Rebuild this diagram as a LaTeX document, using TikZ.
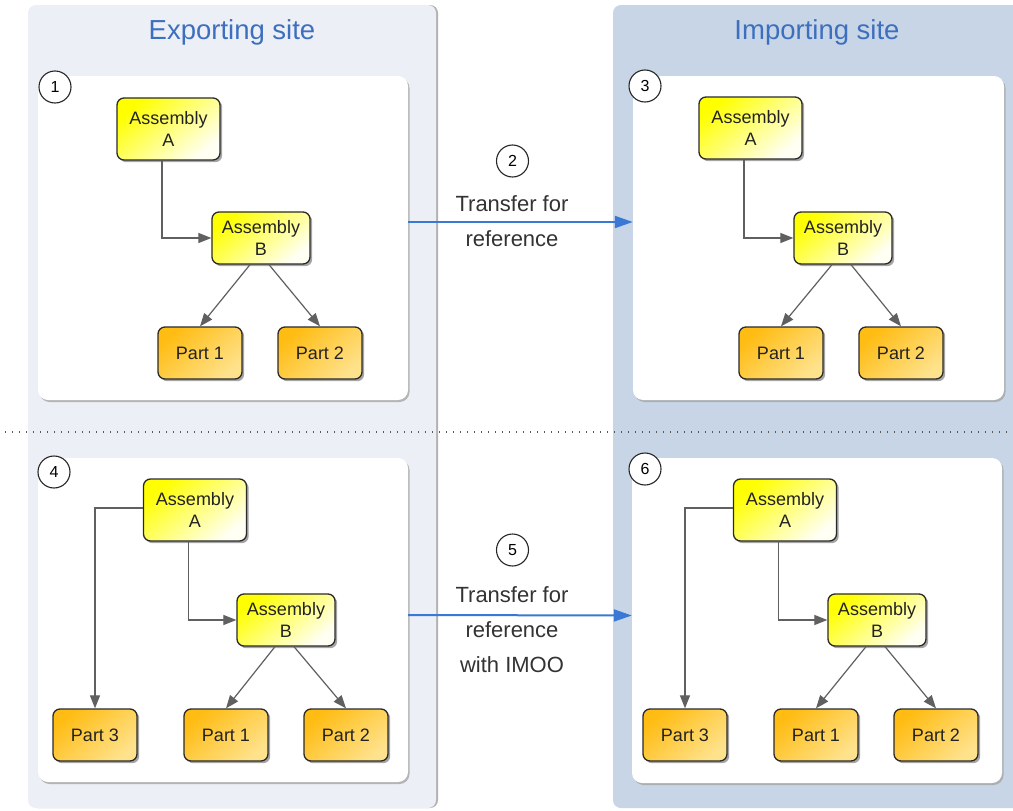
\documentclass[tikz,border=0pt]{standalone}
\usepackage{fontspec}
\setmainfont{Liberation Sans}
\usetikzlibrary{arrows.meta,shadows,calc}

\definecolor{exportbg}{HTML}{ECEFF5}
\definecolor{importbg}{HTML}{C8D5E6}
\definecolor{titleblue}{HTML}{3D6FBF}
\definecolor{flowblue}{HTML}{3A78D6}
\definecolor{edgegray}{HTML}{606060}
\definecolor{nodeborder}{HTML}{2A2A2A}
\definecolor{textdark}{HTML}{222222}
\definecolor{asmtop}{HTML}{FFFF00}
\definecolor{asmmid}{HTML}{FFFFA6}
\definecolor{asmbot}{HTML}{FFFFF4}
\definecolor{parttop}{HTML}{FFBC12}
\definecolor{partmid}{HTML}{FFCF4A}
\definecolor{partbot}{HTML}{FFE28C}

\begin{document}
\begin{tikzpicture}[x=1pt,y=-1pt,
  title/.style={text=titleblue, font=\fontsize{27.5}{30}\selectfont, inner sep=0pt},
  stagebox/.style={rectangle, rounded corners=10pt, fill=white, inner sep=0pt,
    drop shadow={shadow xshift=1.5pt, shadow yshift=-2pt, fill=black!35, opacity=0.8}},
  blockbase/.style={rectangle, rounded corners=7pt, draw=nodeborder, line width=1.3pt,
    inner sep=0pt, align=center, text=textdark,
    font=\fontsize{18}{21.5}\selectfont,
    drop shadow={shadow xshift=2.2pt, shadow yshift=-2.2pt, fill=black!50, opacity=0.7}},
  asmA/.style={blockbase, top color=asmtop, middle color=asmmid, bottom color=asmbot,
    shading angle=40, minimum width=103pt, minimum height=62pt},
  asmB/.style={blockbase, top color=asmtop, middle color=asmmid, bottom color=asmbot,
    shading angle=40, minimum width=98pt, minimum height=52pt},
  part/.style={blockbase, top color=parttop, middle color=partmid, bottom color=partbot,
    shading angle=40, minimum width=84pt, minimum height=52pt},
  conn/.style={draw=edgegray, line width=1.2pt, -{Triangle[length=13pt,width=10pt]}},
  flow/.style={draw=flowblue, line width=2pt, -{Triangle[length=18pt,width=12pt]}},
  num/.style={circle, draw=black!85, line width=1.1pt, fill=white, minimum size=32pt,
    inner sep=0pt, font=\fontsize{16}{16}\selectfont},
  lbl/.style={align=center, text=black!80, font=\fontsize{22}{35}\selectfont, inner sep=0pt},
  sep/.style={draw=black!65, line width=1.2pt, dash pattern=on 1.2pt off 5.8pt}
]
\useasboundingbox (0,0) rectangle (1013,811);
\fill[white] (0,0) rectangle (1013,811);

% site columns
\fill[black!30, rounded corners=8pt] (30,5) rectangle (438,808);
\fill[exportbg, rounded corners=8pt] (28,5) rectangle (436,808);
\fill[importbg, rounded corners=8pt] (613,5) rectangle (1030,808);
\node[title] (expt) at (232,32) {Exporting site};
\node[title] (impt) at (817,32) {Importing site};

% separator between the two scenarios
\draw[sep] (5,432) -- (1013,432);

% stage panels
\node[stagebox, minimum width=370pt, minimum height=324pt] (box1) at (223,238) {};
\node[stagebox, minimum width=371pt, minimum height=324pt] (box3) at (818.5,238) {};
\node[stagebox, minimum width=370pt, minimum height=324pt] (box4) at (223,620) {};
\node[stagebox, minimum width=370pt, minimum height=325pt] (box6) at (817,620.5) {};

% stage 1: exporting site structure
\node[asmA] (a1) at (168.5,129) {Assembly\\A};
\node[asmB] (b1) at (261,238) {Assembly\\B};
\node[part] (p11) at (200,353) {Part 1};
\node[part] (p12) at (320,353) {Part 2};
\draw[conn] ([xshift=-6.5pt]a1.south) |- (b1.west);
\draw[conn] ([xshift=-11pt]b1.south) -- (p11.north);
\draw[conn] ([xshift=8pt]b1.south) -- (p12.north);

% stage 3: importing site structure
\node[asmA] (a3) at (750.5,128) {Assembly\\A};
\node[asmB] (b3) at (843,238) {Assembly\\B};
\node[part] (p31) at (781,353) {Part 1};
\node[part] (p32) at (901,353) {Part 2};
\draw[conn] ([xshift=-6.5pt]a3.south) |- (b3.west);
\draw[conn] ([xshift=-11pt]b3.south) -- (p31.north);
\draw[conn] ([xshift=8pt]b3.south) -- (p32.north);

% stage 4: exporting site structure with Part 3
\node[asmA] (a4) at (195,510) {Assembly\\A};
\node[asmB] (b4) at (286,620) {Assembly\\B};
\node[part] (p43) at (95,735) {Part 3};
\node[part] (p41) at (226,735) {Part 1};
\node[part] (p42) at (346,735) {Part 2};
\draw[conn] ([yshift=2pt]a4.west) -| (p43.north);
\draw[conn] ([xshift=-6.5pt]a4.south) |- (b4.west);
\draw[conn] ([xshift=-11pt]b4.south) -- (p41.north);
\draw[conn] ([xshift=8pt]b4.south) -- (p42.north);

% stage 6: importing site structure with Part 3
\node[asmA] (a6) at (785,510) {Assembly\\A};
\node[asmB] (b6) at (877,620) {Assembly\\B};
\node[part] (p63) at (685,735) {Part 3};
\node[part] (p61) at (816,735) {Part 1};
\node[part] (p62) at (936,735) {Part 2};
\draw[conn] ([yshift=2pt]a6.west) -| (p63.north);
\draw[conn] ([xshift=-6.5pt]a6.south) |- (b6.west);
\draw[conn] ([xshift=-11pt]b6.south) -- (p61.north);
\draw[conn] ([xshift=8pt]b6.south) -- (p62.north);

% transfers between the sites
\draw[flow] ([yshift=16pt]box1.east) -- ([yshift=16pt]box3.west);
\draw[flow] ([yshift=5pt]box4.east) -- ([yshift=5pt]box6.west);
\node[lbl] (t2) at (512,221) {Transfer for\\reference};
\node[lbl] (t5) at (512,630) {Transfer for\\reference\\with IMOO};

% step numbers
\node[num] (c1) at (55,87) {1};
\node[num] (c2) at (512.5,161) {2};
\node[num] (c3) at (645,86) {3};
\node[num] (c4) at (54,472) {4};
\node[num] (c5) at (512.5,550) {5};
\node[num] (c6) at (645,469) {6};
\end{tikzpicture}
\end{document}
